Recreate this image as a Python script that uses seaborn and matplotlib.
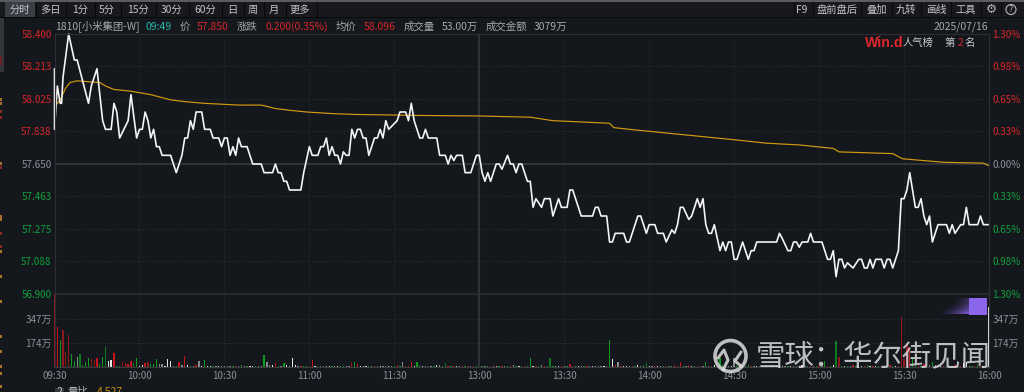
import numpy as np
import pandas as pd
import matplotlib
matplotlib.use("Agg")
import matplotlib.pyplot as plt
from matplotlib.patches import Rectangle, Circle
import seaborn as sns

# ---------- data ----------
price_minutes = [0,0,1,2,2.5,3,5,7,8,12,13,15,17,18,20,21,22,23,26,27,29,30,31,32,33,34,35,36,37,38,41,43,45,46,47,48,49,50,52,53,55,56,58,59,60,61,62,63,64,65,66,68,70,73,74,77,78,79,80,81,82,83,
 87,88,90,91,93,94,95,96,97,98,99,100,101,102,103,104,105,106,107,108,109,110,111,113,114,115,116,117,118,121,122,124,125,126,127,129,130,131,132,133,135,136,138,139,140,141,142,144,145,147,149,150,151,152,153,154,156,157,158,160,161,162,163,164,165,
 167,168,169,170,172,173,175,176,178,179,181,182,183,186,190,191,192,193,195,196,197,198,201,202,203,206,207,209,210,212,213,215,216,218,219,220,221,222,224,225,227,228,229,230,231,232,233,235,236,237,238,239,240,241,243,245,246,247,248,255,256,257,259,260,261,262,263,264,266,267,268,271,273,274,275,276,277,278,279,280,282,284,285,286,287,288,289,290,292,293,294,295,296,298,299,300,301,302,304,305,306,307,308,309,310,312,315,316,317,318,320,321,322,323,326,327,328,330]
price_values = [58.20,57.85,58.10,58.00,58.00,58.15,58.40,58.25,58.25,58.00,58.10,58.20,57.90,57.85,57.85,58.00,57.95,57.80,57.90,58.05,57.80,57.85,57.85,57.95,57.90,57.80,57.85,57.75,57.75,57.70,57.70,57.60,57.70,57.80,57.80,57.90,57.85,57.95,57.95,57.85,57.85,57.80,57.80,57.75,57.80,57.80,57.70,57.75,57.70,57.80,57.75,57.75,57.65,57.65,57.60,57.60,57.65,57.60,57.60,57.55,57.55,57.50,
 57.50,57.60,57.75,57.70,57.70,57.75,57.75,57.80,57.70,57.75,57.70,57.70,57.65,57.72,57.70,57.70,57.85,57.80,57.85,57.85,57.80,57.80,57.70,57.80,57.80,57.85,57.80,57.90,57.85,57.90,57.95,57.95,57.90,58.00,57.90,57.80,57.80,57.85,57.80,57.80,57.80,57.70,57.70,57.65,57.70,57.67,57.70,57.70,57.60,57.60,57.70,57.70,57.60,57.55,57.60,57.55,57.65,57.65,57.62,57.70,57.65,57.65,57.60,57.65,57.65,
 57.55,57.55,57.40,57.45,57.40,57.45,57.45,57.35,57.45,57.40,57.40,57.50,57.50,57.35,57.35,57.40,57.40,57.35,57.35,57.20,57.20,57.25,57.25,57.20,57.20,57.35,57.35,57.25,57.30,57.30,57.25,57.25,57.20,57.27,57.25,57.30,57.40,57.40,57.33,57.35,57.45,57.40,57.45,57.30,57.25,57.25,57.30,57.15,57.20,57.15,57.20,57.20,57.10,57.10,57.20,57.10,57.15,57.15,57.20,57.20,57.25,57.22,57.15,57.15,57.20,57.20,57.17,57.20,57.20,57.25,57.20,57.20,57.10,57.10,57.15,57.00,57.10,57.10,57.05,57.08,57.05,57.10,57.10,57.05,57.05,57.10,57.05,57.10,57.10,57.05,57.10,57.10,57.05,57.15,57.45,57.45,57.50,57.60,57.40,57.40,57.45,57.35,57.30,57.35,57.20,57.30,57.30,57.25,57.30,57.25,57.30,57.30,57.40,57.30,57.30,57.35,57.30,57.30]

avg_minutes = [0,2,4,5.5,8,11,16,18,21,27,34,41,46,53,65,73,78,83,89,99,106,129,150,168,176,196,197.5,203,240,251.5,263,275,277,296,299.5,314,328,330]
avg_values = [57.98,58.02,58.09,58.12,58.13,58.126,58.12,58.10,58.08,58.07,58.05,58.02,58.01,58.00,57.99,57.99,57.97,57.96,57.95,57.94,57.936,57.93,57.927,57.92,57.90,57.885,57.86,57.85,57.79,57.77,57.76,57.74,57.72,57.71,57.68,57.66,57.655,57.64]

volumes = [532,295,198,271,114,235,94,46,73,97,
 17,41,65,60,53,65,24,73,155,46,
 53,102,10,12,36,29,27,46,29,68,
 10,14,29,39,27,22,63,24,22,10,
 58,46,10,8,39,14,82,14,10,8,
 14,46,10,53,12,12,10,8,6,6,
 8,6,6,10,6,8,14,8,10,6,
 6,8,10,8,90,41,20,14,29,8,
 6,29,20,10,68,14,10,12,8,6,
 8,53,6,8,12,8,10,8,6,12,
 8,6,10,8,6,36,36,24,10,8,
 8,6,8,12,6,8,10,8,6,10,
 12,20,10,39,8,12,39,10,39,14,
 10,6,8,8,10,14,20,8,29,6,
 6,8,10,6,8,10,8,6,10,8,
 6,10,8,12,6,8,10,6,8,8,
 8,6,14,10,6,8,8,12,68,8,
 6,8,14,10,8,65,10,6,8,12,
 10,8,24,12,6,8,12,6,10,8,
 8,6,12,8,10,6,198,58,14,39,
 10,8,6,12,10,8,14,12,20,34,
 8,6,12,10,8,6,10,8,6,14,
 12,39,10,8,14,6,12,8,10,6,
 39,10,8,14,12,65,20,10,8,8,
 65,12,8,10,6,14,10,8,12,6,
 10,8,6,14,8,12,10,6,12,8,
 10,6,8,12,14,6,10,8,10,6,
 12,8,46,10,8,14,194,77,8,12,
 10,6,14,8,12,6,10,14,8,10,
 8,12,6,10,8,14,12,10,6,363,
 60,174,150,65,20,14,12,24,10,14,
 41,14,10,12,8,10,12,8,14,10,
 12,29,41,10,8,12,14,8,10,12,
 437]
vol_kinds = list("DrgDDDggaE" "gggDDrggEw" "wrggDrrrEg" "wwrDgggaaw" "wwagrarwga" "rawgwwgawg"
 "agagragagw" "wgaagaawrg" "agwawwargg" "Drwgagawga" "wggaaDgrwa" "wgargwagwa"
 "grgarrrwgE" "wagagwagEr" "grwargDarg" "wgagrawgra" "graEwErggw" "rgargEgawr"
 "agrDgwagra" "wagawggwra" "rwwargwagE" "warwagDgar" "Drgarwgdra".replace("d", "D") + "garwaggraw"
 "agrwagDawg" "awrgawrwag" "wagrwagrag" "ragrgwEDgw" "gargawrgwr" "wgragrgwrD"
 "DDrggrgrga" "garwraggrw" "rwwagrgrwa" "w")

x_ticks = [0, 30, 60, 90, 120, 150, 180, 210, 240, 270, 300, 330]
x_labels = ["09:30","10:00","10:30","11:00","11:30","13:00","13:30","14:00","14:30","15:00","15:30","16:00"]
price_ticks = [58.400,58.213,58.025,57.838,57.650,57.463,57.275,57.088,56.900]
pct_labels = ["1.30%","0.98%","0.65%","0.33%","0.00%","0.33%","0.65%","0.98%","1.30%"]
vol_ticks = [174, 347]
vol_labels = ["174万", "347万"]
left_tabs = ["分时","多日","1分","5分","15分","30分","60分","日","周","月","更多"]
right_tabs = ["F9","盘前盘后","叠加","九转","画线","工具"]

# ---------- style ----------
BG = "#14171c"; GRID = "#2e3136"; RED = "#d8262b"; GREEN = "#12a03c"; GREY = "#8d9096"; LABEL = "#a6a8ad"
sns.set_theme(style="dark", rc={"figure.facecolor": BG, "axes.facecolor": BG, "savefig.facecolor": BG})
plt.rcParams["font.family"] = ["Noto Sans CJK SC", "DejaVu Sans"]
W, H = 1024, 392
fig = plt.figure(figsize=(W/100, H/100), dpi=100)

def px_axes(x0, y0, x1, y1, **kw):
    return fig.add_axes([x0/W, 1-y1/H, (x1-x0)/W, (y1-y0)/H], **kw)

L, R = 54.5, 989
# chrome underlay
bg = px_axes(0, 0, W, H, zorder=0); bg.set_xlim(0, W); bg.set_ylim(H, 0); bg.axis("off")
bg.add_patch(Rectangle((0, 0), W, 1.5, color="#5a5c61", lw=0))
bg.add_patch(Rectangle((0, 1.5), W, 16, color="#17191d", lw=0))
bg.add_patch(Rectangle((0, 17), W, 1.2, color="#08090b", lw=0))
bg.add_patch(Rectangle((5, 2), 30, 15, color="#3c3e45", lw=0))
for sx in [36,66,95,121,156,189,222,244,264,286,317,794,813,861,892,921,951,981,1001]:
    bg.plot([sx, sx], [2, 17], color="#08090b", lw=0.8)
bg.add_patch(Rectangle((0, 18), 4, 54, color="#34363c", lw=0))
bg.add_patch(Rectangle((0, 56), 1.5, 9, color="#6b2226", lw=0))
for fy, fc in [(98,"#a8722a"),(102,"#a8722a"),(110,"#8a2a20"),(116,"#8a2a20"),(162,"#a8722a"),(166,"#8a2a20"),(215,"#a8722a"),(218,"#a8722a"),(232,"#8a2a20"),(245,"#8a2a20"),(250,"#a8722a"),(275,"#a8722a"),(300,"#a8722a"),(335,"#a8722a"),(350,"#a8722a"),(365,"#a8722a"),(372,"#a8722a"),(385,"#a8722a")]:
    bg.add_patch(Rectangle((0, fy), 1.5, 3, color=fc, lw=0))

# ---------- price panel ----------
ax = px_axes(L, 34, R, 294, zorder=1, facecolor="none")
sns.lineplot(x=avg_minutes, y=avg_values, ax=ax, color="#d49b10", lw=0.85, estimator=None, sort=False, errorbar=None)
sns.lineplot(x=price_minutes, y=price_values, ax=ax, color="#f4f4f4", lw=1.2, estimator=None, sort=False, errorbar=None)
for ln in ax.get_lines():
    ln.set_clip_on(False)
ax.set_xlim(0, 330); ax.set_ylim(56.9, 58.4)
ax.set_yticks(price_ticks); ax.set_yticklabels([f"{t:.3f}" for t in price_ticks], fontsize=7.1)
ax.set_xticks(x_ticks); ax.set_xticklabels([])
ax.tick_params(axis="both", length=0, pad=2)
for t, v in zip(ax.get_yticklabels(), price_ticks):
    t.set_color(RED if v > 57.65 else GREEN if v < 57.65 else GREY)
ax.grid(True, color=GRID, ls=(0, (1, 2)), lw=0.7)
ax.set_axisbelow(True)
ax.axhline(57.65, color="#34363b", lw=1.3, zorder=1.5)
ax.axhline(56.9, color="#26282c", lw=1.6, zorder=1.5, clip_on=False)
ax.axvline(150, color="#303236", lw=1.5, zorder=1.5)
ax.set_xlabel(""); ax.set_ylabel("")
for s in ax.spines.values(): s.set_color("#2c2e33"); s.set_linewidth(0.9)
ax.spines["bottom"].set_visible(False)
axr = ax.twinx(); axr.set_ylim(56.9, 58.4)
axr.set_yticks(price_ticks); axr.set_yticklabels(pct_labels, fontsize=7.1)
axr.tick_params(axis="y", length=0, pad=2.5); axr.grid(False)
for t, v in zip(axr.get_yticklabels(), price_ticks):
    t.set_color(RED if v > 57.65 else GREEN if v < 57.65 else GREY)
for s in axr.spines.values(): s.set_visible(False)

# ---------- volume panel ----------
axv = px_axes(L, 294, R, 367.3, zorder=1, facecolor="none")
kind_colors = {"r": "#c8141c", "D": "#8e1a20", "g": "#0f9a22", "E": "#0c7a1e", "w": "#e8e8e8", "a": "#8a8c90"}
vol_df = pd.DataFrame({"minute": np.arange(len(volumes)), "vol": volumes, "kind": vol_kinds})
sns.barplot(data=vol_df, x="minute", y="vol", hue="kind", palette=kind_colors, native_scale=True,
            dodge=False, width=0.45, legend=False, ax=axv, linewidth=0, saturation=1)
for p in axv.patches:
    p.set_clip_on(False)
axv.set_xlim(0, 330); axv.set_ylim(0, 531)
axv.set_xticks(x_ticks); axv.set_xticklabels(x_labels, fontsize=7.1, color=GREY)
axv.set_yticks(vol_ticks); axv.set_yticklabels(vol_labels, fontsize=7.1, color=GREY)
axv.tick_params(axis="both", length=0, pad=2)
axv.tick_params(axis="x", pad=3)
axv.grid(True, color=GRID, ls=(0, (1, 2)), lw=0.7); axv.set_axisbelow(True)
axv.axvline(150, color="#303236", lw=1.5, zorder=1.5)
axv.set_xlabel(""); axv.set_ylabel("")
for s in axv.spines.values(): s.set_color("#2c2e33"); s.set_linewidth(0.9)
axv.spines["top"].set_visible(False)
axv.spines["bottom"].set_color("#3a3c40")
axvr = axv.twinx(); axvr.set_ylim(0, 531)
axvr.set_yticks(vol_ticks); axvr.set_yticklabels(vol_labels, fontsize=7.1, color=GREY)
axvr.tick_params(axis="y", length=0, pad=2.5); axvr.grid(False)
for s in axvr.spines.values(): s.set_visible(False)

# ---------- overlay: header, toolbar, badges ----------
ov = px_axes(0, 0, W, H, zorder=5, facecolor="none"); ov.axis("off")
def T(x, y, s, c=LABEL, size=7.5, ha="left", **kw):
    ov.text(x, y, s, color=c, fontsize=size, ha=ha, va="center", **kw)
for x, s in zip([20,50,80,107,138,172,205,232,253,274,300], left_tabs):
    T(x, 9.5, s, c="#c2c4c8", ha="center", size=7.4)
for x, s in zip([802,837,877,906,936,966], right_tabs):
    T(x, 9.5, s, c="#c2c4c8", ha="center", size=7.4)
T(991, 9.5, "⚙", c="#b5b7bb", ha="center", size=9, family="DejaVu Sans")
ov.add_patch(Circle((1011, 9.5), 5, fill=False, ec="#b5b7bb", lw=0.8))
T(1011, 9.5, "?", c="#b5b7bb", ha="center", size=6.5)
T(55, 26.5, "1810[小米集团-W]")
T(146, 26.5, "09:49", c="#2bb7ae")
T(180, 26.5, "价")
T(197, 26.5, "57.850", c=RED)
T(237, 26.5, "涨跌")
T(265, 26.5, "0.200(0.35%)", c=RED)
T(336, 26.5, "均价")
T(364, 26.5, "58.096", c=RED)
T(404, 26.5, "成交量")
T(442, 26.5, "53.00万")
T(486, 26.5, "成交金额")
T(534, 26.5, "3079万")
T(988, 26.5, "2025/07/16", ha="right")
T(865, 42.5, "Win.d", c="#e0262a", size=10.2, weight="bold", family="Liberation Sans")
T(903, 42.5, "人气榜", c="#c8cacd", size=7.4)
T(944, 42.5, "第", c="#c8cacd", size=7.4)
T(960, 42.5, "2", c=RED, size=7.4, ha="center")
T(970, 42.5, "名", c="#c8cacd", size=7.4, ha="center")
ov.add_patch(Rectangle((55, 388), 9, 6, color="#34363c", lw=0))
T(59.5, 392, "2", c="#c8cacd", ha="center")
T(68, 392, "量比", c="#b5b7bb")
T(97, 392, "4.527", c="#c9920f")

# purple badge with fading trail
trail = np.zeros((16, 40, 4))
trail[..., :3] = [0.54, 0.39, 0.91]
for r in range(16):
    start = int(20 - 20 * (r / 15) ** 1.5)
    ramp = np.linspace(0, 1, 40 - start) ** 1.3
    trail[r, start:, 3] = ramp * (0.3 + 0.65 * (r / 15) ** 2)
ov.imshow(trail, extent=(938, 970, 314.5, 298.5), aspect="auto", interpolation="bilinear", zorder=2)
ov.add_patch(Rectangle((969, 297.5), 18, 17.5, color="#8c66ea", lw=0, zorder=3))

# watermark
WM = "#e4e4e4"
ov.add_patch(Circle((730.5, 356), 15.5, fill=False, ec=WM, lw=2.6, alpha=0.82, zorder=6))
ov.plot([718, 724, 728, 723], [358, 350, 360, 370], color=WM, lw=2.2, alpha=0.82, zorder=6)
ov.plot([741, 735, 741], [352, 361, 366], color=WM, lw=2.2, alpha=0.82, zorder=6)
ov.text(756, 356.5, "雪球：华尔街见闻", color=WM, alpha=0.82, fontsize=21.2, ha="left", va="center", zorder=6)
ov.set_xlim(0, W); ov.set_ylim(H, 0)

fig.savefig("out.png", dpi=100)
